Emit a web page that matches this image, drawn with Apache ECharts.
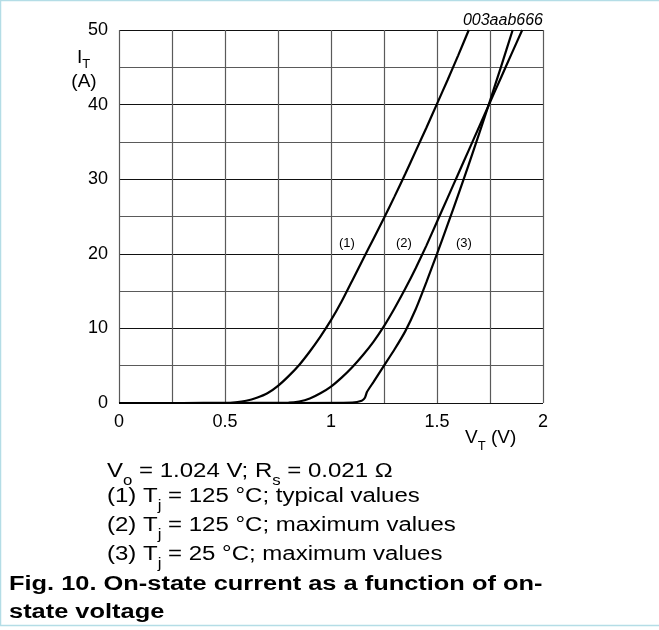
<!DOCTYPE html>
<html><head><meta charset="utf-8">
<script src="https://cdn.jsdelivr.net/npm/echarts@6/dist/echarts.min.js"></script>
<style>html,body{margin:0;padding:0;background:#fff}#c{width:659px;height:630px}</style>
</head><body><div id="c"></div>
<script>
// Data (V_T in volts, I_T in amperes)
const curve1 = [[0,0],[0.3,0],[0.5,0.02],[0.55,0.1],[0.6,0.3],[0.65,0.7],[0.7,1.3],[0.75,2.3],[0.8,3.6],[0.85,5.1],[0.9,6.9],[0.95,8.9],[1.0,11.1],[1.05,13.6],[1.1,16.4],[1.15,19.2],[1.2,22.0],[1.25,24.8],[1.3,27.7],[1.35,30.7],[1.4,33.8],[1.45,36.9],[1.5,40.1],[1.55,43.3],[1.6,46.6],[1.65,50]];
const curve2 = [[0,0],[0.5,0],[0.8,0.05],[0.85,0.2],[0.9,0.6],[0.95,1.3],[1.0,2.2],[1.05,3.4],[1.1,4.8],[1.15,6.4],[1.2,8.2],[1.25,10.3],[1.3,12.7],[1.35,15.3],[1.4,18.1],[1.45,21.1],[1.5,24.3],[1.55,27.5],[1.6,30.7],[1.65,33.9],[1.7,37.1],[1.75,40.3],[1.8,43.5],[1.85,46.7],[1.902,50]];
const curve3 = [[0,0],[0.8,0],[1.1,0.05],[1.145,0.3],[1.16,0.7],[1.17,1.5],[1.2,2.8],[1.25,5.0],[1.3,7.2],[1.35,9.6],[1.4,12.6],[1.45,16.2],[1.5,20.0],[1.55,23.9],[1.6,27.9],[1.65,32.0],[1.7,36.2],[1.75,40.5],[1.8,44.9],[1.857,50]];
const curveLabels = ['(1)','(2)','(3)'];
const curveLabelPos = [[1.075,21.4],[1.344,21.4],[1.627,21.4]];
const xTicks = [0,0.5,1,1.5,2];
const yTicks = [0,10,20,30,40,50];
const notes = ['V{sub|o} = 1.024 V; R{sub|s} = 0.021 Ω','(1) T{sub|j} = 125 °C; typical values','(2) T{sub|j} = 125 °C; maximum values','(3) T{sub|j} = 25 °C; maximum values'];
const caption = ['Fig. 10. On-state current as a function of on-','state voltage'];

const FONT = 'Liberation Sans, Arial, sans-serif';
const chart = echarts.init(document.getElementById('c'), null, {renderer:'canvas'});
const subRich = {sub:{fontSize:13, fontFamily:FONT, verticalAlign:'bottom', lineHeight:10, padding:[0,0,-5,0], fill:'#000'}};
const subRichY = {sub:{fontSize:13, fontFamily:FONT, verticalAlign:'bottom', lineHeight:10, padding:[0,0,-3,0], fill:'#000'}};

const graphics = [
  {type:'line', shape:{x1:0.5,y1:0,x2:0.5,y2:625}, style:{stroke:'#b4dde6',lineWidth:1.5}},
  {type:'line', shape:{x1:0,y1:0.5,x2:659,y2:0.5}, style:{stroke:'#b4dde6',lineWidth:1.5}},
  {type:'line', shape:{x1:0,y1:625.5,x2:659,y2:625.5}, style:{stroke:'#b4dde6',lineWidth:1.5}},
  {type:'text', x:543, y:21, style:{text:'003aab666', font:'italic 16px '+FONT, fill:'#000', align:'right', verticalAlign:'middle'}},
  {type:'text', x:77, y:58, style:{text:'I{sub|T}', font:'19px '+FONT, fill:'#000', verticalAlign:'middle', rich:subRichY}},
  {type:'text', x:84, y:82, style:{text:'(A)', font:'19px '+FONT, fill:'#000', align:'center', verticalAlign:'middle'}},
  {type:'text', x:465, y:438, style:{text:'V{sub|T} (V)', font:'19px '+FONT, fill:'#000', verticalAlign:'middle', rich:subRich}}
];
const noteY = [471, 496, 525, 554];
notes.forEach((t,i)=>graphics.push({type:'text', x:107, y:noteY[i], scaleX:1.2,
  style:{text:t, font:'20px '+FONT, fill:'#000', verticalAlign:'middle',
    rich:{sub:{fontSize:14, fontFamily:FONT, verticalAlign:'bottom', lineHeight:10, padding:[0,0,-7,0]}}}}));
const capY = [584, 612];
caption.forEach((t,i)=>graphics.push({type:'text', x:9, y:capY[i], scaleX:1.27,
  style:{text:t, font:'bold 20px '+FONT, fill:'#000', verticalAlign:'middle'}}));

function lineSeries(name, data, idx){
  return {
    name, type:'line', data, showSymbol:false, symbol:'none', smooth:0.2,
    lineStyle:{color:'#000', width:2.2}, z:5, animation:false,
    markPoint: idx===0 ? {
      symbol:'circle', symbolSize:1, itemStyle:{color:'transparent'},
      label:{show:true, position:'inside', color:'#000', fontSize:13, fontFamily:FONT, formatter:p=>p.name},
      data: curveLabels.map((l,i)=>({name:l, coord:curveLabelPos[i]}))
    } : undefined
  };
}

chart.setOption({
  animation:false,
  backgroundColor:'#fff',
  grid:{left:119, top:30, right:116, bottom:227, containLabel:false, show:false},
  xAxis:{type:'value', min:0, max:2, interval:0.25,
    axisLine:{show:false}, axisTick:{show:false},
    axisLabel:{color:'#000', fontSize:18, fontFamily:FONT, margin:10,
      formatter:v=>xTicks.some(t=>Math.abs(t-v)<1e-9)?String(v):''},
    splitLine:{show:true, lineStyle:{color:'#5a5a5a', width:1.2}}
  },
  yAxis:{type:'value', min:0, max:50, interval:5,
    axisLine:{show:false}, axisTick:{show:false},
    axisLabel:{color:'#000', fontSize:18, fontFamily:FONT, margin:11,
      formatter:v=>yTicks.includes(v)?String(v):''},
    splitLine:{show:true, lineStyle:{color:['#111','#5a5a5a'], width:1.2}}
  },
  series:[lineSeries('(1)',curve1,0), lineSeries('(2)',curve2,1), lineSeries('(3)',curve3,2)],
  graphic:graphics
});
</script></body></html>
